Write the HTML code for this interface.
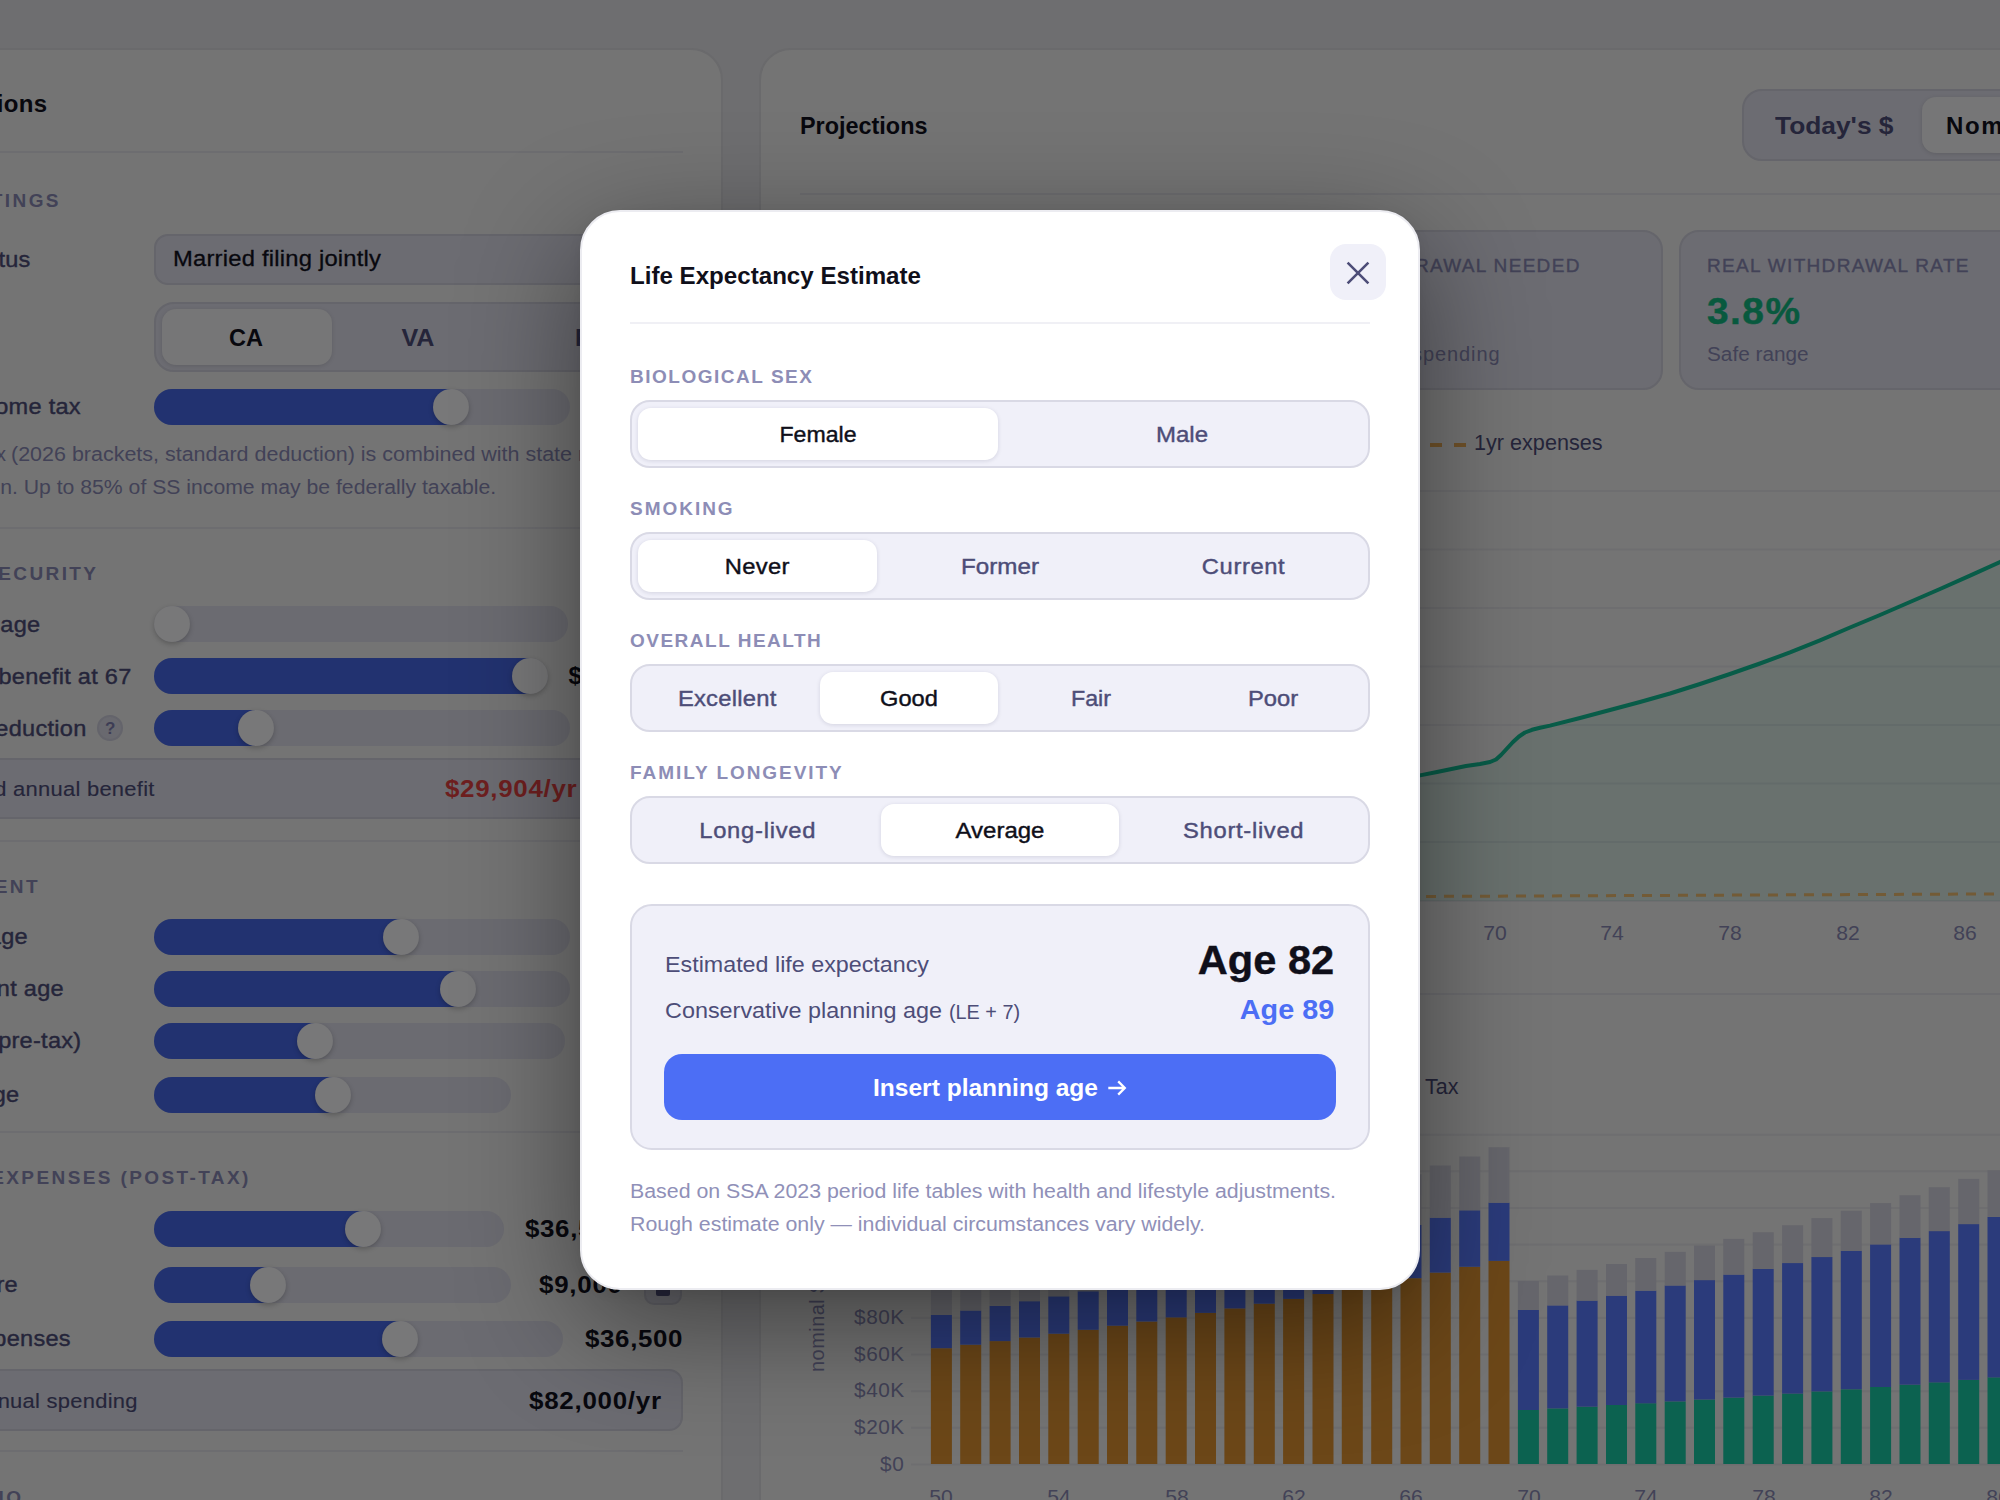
<!DOCTYPE html>
<html><head><meta charset="utf-8"><title>Life Expectancy Estimate</title>
<style>
html,body{margin:0;padding:0;}
body{width:2000px;height:1500px;overflow:hidden;position:relative;background:#6e6e70;font-family:"Liberation Sans",sans-serif;}
.r{position:absolute;}
.t{position:absolute;white-space:nowrap;}
</style></head><body>
<div class="r" style="left:-60px;top:48px;width:783px;height:1600px;background:#747474;border-radius:32px;border:2px solid #6a6a6c;box-sizing:border-box;"></div>
<div class="r" style="left:759px;top:48px;width:1400px;height:1600px;background:#747474;border-radius:32px;border:2px solid #6a6a6c;box-sizing:border-box;"></div>
<div class="t" style="top:92.2px;font-size:24px;line-height:24px;color:#08080e;font-weight:700;letter-spacing:0.300px;right:1953.0px;margin-right:-0.300px;">Assumptions</div>
<div class="r" style="left:-10px;top:151px;width:693px;height:2px;background:#6d6d70;"></div>
<div class="t" style="top:190.9px;font-size:19px;line-height:19px;color:#424257;font-weight:700;letter-spacing:2.400px;right:1941.5px;margin-right:-2.400px;">TAX SETTINGS</div>
<div class="t" style="top:248.5px;font-size:22px;line-height:22px;color:#25253a;letter-spacing:0.250px;-webkit-text-stroke:0.4px;right:1970.0px;margin-right:-0.250px;transform:scaleX(1.0700);transform-origin:right top;">Filing status</div>
<div class="r" style="left:154px;top:234px;width:560px;height:51px;background:#6c6c72;border-radius:14px;border:2px solid #65656b;box-sizing:border-box;"></div>
<div class="t" style="top:248.4px;font-size:22px;line-height:22px;color:#08080e;letter-spacing:0.205px;-webkit-text-stroke:0.3px;left:172.5px;transform:scaleX(1.0800);transform-origin:0 0;">Married filing jointly</div>
<div class="r" style="left:154px;top:302px;width:560px;height:70px;background:#6c6c72;border-radius:20px;border:2px solid #65656b;box-sizing:border-box;"></div>
<div class="r" style="left:162px;top:309px;width:170px;height:56px;background:#767677;border-radius:14px;box-shadow:0 1px 4px rgba(0,0,0,.12);"></div>
<div class="t" style="top:325.7px;font-size:24px;line-height:24px;color:#08080e;font-weight:700;left:-354.0px;width:1200px;text-align:center;padding-left:0.000px;transform:scaleX(0.9806);transform-origin:center top;">CA</div>
<div class="t" style="top:325.7px;font-size:24px;line-height:24px;color:#25253a;font-weight:700;left:-182.0px;width:1200px;text-align:center;padding-left:0.000px;transform:scaleX(1.0455);transform-origin:center top;">VA</div>
<div class="t" style="top:325.7px;font-size:24px;line-height:24px;color:#25253a;font-weight:700;letter-spacing:1.500px;left:575.0px;">FL</div>
<div class="t" style="top:396.1px;font-size:22px;line-height:22px;color:#25253a;letter-spacing:0.250px;-webkit-text-stroke:0.4px;right:1919.0px;margin-right:-0.250px;transform:scaleX(1.0700);transform-origin:right top;">State income tax</div>
<div class="r" style="left:154px;top:389px;width:416px;height:36px;background:#6b6b71;border-radius:18px;"></div>
<div class="r" style="left:154px;top:389px;width:297px;height:36px;background:#223270;border-radius:18px 0 0 18px;"></div>
<div class="r" style="left:433px;top:389px;width:36px;height:36px;background:#787879;border-radius:18px;box-shadow:0 2px 5px rgba(0,0,0,.22);"></div>
<div class="t" style="top:444.1px;font-size:20px;line-height:20px;color:#424257;right:1994.0px;margin-right:0.000px;">x</div>
<div class="t" style="top:444.1px;font-size:20px;line-height:20px;color:#424257;left:10.5px;transform:scaleX(1.0737);transform-origin:0 0;">(2026 brackets, standard deduction) is combined with state rate</div>
<div class="t" style="top:476.7px;font-size:20px;line-height:20px;color:#424257;right:1503.5px;margin-right:0.000px;transform:scaleX(1.0599);transform-origin:right top;">for total taxation. Up to 85% of SS income may be federally taxable.</div>
<div class="r" style="left:-10px;top:527px;width:693px;height:2px;background:#6d6d70;"></div>
<div class="t" style="top:563.9px;font-size:19px;line-height:19px;color:#424257;font-weight:700;letter-spacing:2.400px;right:1904.0px;margin-right:-2.400px;">SOCIAL SECURITY</div>
<div class="t" style="top:614.1px;font-size:22px;line-height:22px;color:#25253a;letter-spacing:0.250px;-webkit-text-stroke:0.4px;right:1960.3px;margin-right:-0.250px;transform:scaleX(1.0700);transform-origin:right top;">Claiming age</div>
<div class="r" style="left:154px;top:606px;width:414px;height:36px;background:#6b6b71;border-radius:18px;"></div>
<div class="r" style="left:154px;top:606px;width:36px;height:36px;background:#787879;border-radius:18px;box-shadow:0 2px 5px rgba(0,0,0,.22);"></div>
<div class="t" style="top:665.7px;font-size:22px;line-height:22px;color:#25253a;letter-spacing:0.250px;-webkit-text-stroke:0.4px;right:1869.0px;margin-right:-0.250px;transform:scaleX(1.0700);transform-origin:right top;">Monthly benefit at 67</div>
<div class="r" style="left:154px;top:658px;width:394px;height:36px;background:#6b6b71;border-radius:18px;"></div>
<div class="r" style="left:154px;top:658px;width:375.5px;height:36px;background:#223270;border-radius:18px 0 0 18px;"></div>
<div class="r" style="left:511.5px;top:658px;width:36px;height:36px;background:#787879;border-radius:18px;box-shadow:0 2px 5px rgba(0,0,0,.22);"></div>
<div class="t" style="top:663.7px;font-size:24px;line-height:24px;color:#08080e;font-weight:700;letter-spacing:0.500px;left:568.5px;">$2,800</div>
<div class="t" style="top:717.7px;font-size:22px;line-height:22px;color:#25253a;letter-spacing:0.250px;-webkit-text-stroke:0.4px;right:1914.0px;margin-right:-0.250px;transform:scaleX(1.0700);transform-origin:right top;">Medicare deduction</div>
<div class="r" style="left:97px;top:715px;width:26px;height:26px;background:#69696f;border-radius:13px;border:2px solid #64646b;box-sizing:border-box;"></div>
<div class="t" style="top:719.8px;font-size:17px;line-height:17px;color:#3d3d55;font-weight:700;left:-489.7px;width:1200px;text-align:center;padding-left:0.000px;">?</div>
<div class="r" style="left:154px;top:710px;width:416px;height:36px;background:#6b6b71;border-radius:18px;"></div>
<div class="r" style="left:154px;top:710px;width:102px;height:36px;background:#223270;border-radius:18px 0 0 18px;"></div>
<div class="r" style="left:238px;top:710px;width:36px;height:36px;background:#787879;border-radius:18px;box-shadow:0 2px 5px rgba(0,0,0,.22);"></div>
<div class="r" style="left:-20px;top:758px;width:703px;height:61px;background:#6c6c72;border-radius:14px;border:2px solid #65656b;box-sizing:border-box;"></div>
<div class="t" style="top:778.9px;font-size:20.5px;line-height:20.5px;color:#25253a;letter-spacing:0.250px;-webkit-text-stroke:0.15px;right:1845.6px;margin-right:-0.250px;transform:scaleX(1.0700);transform-origin:right top;">Estimated annual benefit</div>
<div class="t" style="top:777.2px;font-size:24px;line-height:24px;color:#6e1f1f;font-weight:700;letter-spacing:0.638px;left:445.0px;transform:scaleX(1.0800);transform-origin:0 0;">$29,904/yr</div>
<div class="r" style="left:-10px;top:840px;width:693px;height:2px;background:#6d6d70;"></div>
<div class="t" style="top:876.9px;font-size:19px;line-height:19px;color:#424257;font-weight:700;letter-spacing:2.400px;right:1962.5px;margin-right:-2.400px;">RETIREMENT</div>
<div class="t" style="top:926.1px;font-size:22px;line-height:22px;color:#25253a;letter-spacing:0.250px;-webkit-text-stroke:0.4px;right:1972.4px;margin-right:-0.250px;transform:scaleX(1.0700);transform-origin:right top;">Current age</div>
<div class="r" style="left:154px;top:919px;width:416px;height:36px;background:#6b6b71;border-radius:18px;"></div>
<div class="r" style="left:154px;top:919px;width:247px;height:36px;background:#223270;border-radius:18px 0 0 18px;"></div>
<div class="r" style="left:383px;top:919px;width:36px;height:36px;background:#787879;border-radius:18px;box-shadow:0 2px 5px rgba(0,0,0,.22);"></div>
<div class="t" style="top:978.1px;font-size:22px;line-height:22px;color:#25253a;letter-spacing:0.250px;-webkit-text-stroke:0.4px;right:1936.4px;margin-right:-0.250px;transform:scaleX(1.0700);transform-origin:right top;">Retirement age</div>
<div class="r" style="left:154px;top:971px;width:416px;height:36px;background:#6b6b71;border-radius:18px;"></div>
<div class="r" style="left:154px;top:971px;width:304px;height:36px;background:#223270;border-radius:18px 0 0 18px;"></div>
<div class="r" style="left:440px;top:971px;width:36px;height:36px;background:#787879;border-radius:18px;box-shadow:0 2px 5px rgba(0,0,0,.22);"></div>
<div class="t" style="top:1030.1px;font-size:22px;line-height:22px;color:#25253a;letter-spacing:0.250px;-webkit-text-stroke:0.4px;right:1918.4px;margin-right:-0.250px;transform:scaleX(1.0700);transform-origin:right top;">Income (pre-tax)</div>
<div class="r" style="left:154px;top:1023px;width:411px;height:36px;background:#6b6b71;border-radius:18px;"></div>
<div class="r" style="left:154px;top:1023px;width:161px;height:36px;background:#223270;border-radius:18px 0 0 18px;"></div>
<div class="r" style="left:297px;top:1023px;width:36px;height:36px;background:#787879;border-radius:18px;box-shadow:0 2px 5px rgba(0,0,0,.22);"></div>
<div class="t" style="top:1084.1px;font-size:22px;line-height:22px;color:#25253a;letter-spacing:0.250px;-webkit-text-stroke:0.4px;right:1980.5px;margin-right:-0.250px;transform:scaleX(1.0700);transform-origin:right top;">Planning age</div>
<div class="r" style="left:154px;top:1077px;width:357px;height:36px;background:#6b6b71;border-radius:18px;"></div>
<div class="r" style="left:154px;top:1077px;width:179px;height:36px;background:#223270;border-radius:18px 0 0 18px;"></div>
<div class="r" style="left:315px;top:1077px;width:36px;height:36px;background:#787879;border-radius:18px;box-shadow:0 2px 5px rgba(0,0,0,.22);"></div>
<div class="r" style="left:-10px;top:1131px;width:693px;height:2px;background:#6d6d70;"></div>
<div class="t" style="top:1167.9px;font-size:19px;line-height:19px;color:#424257;font-weight:700;letter-spacing:2.400px;right:1751.6px;margin-right:-2.400px;">ANNUAL EXPENSES (POST-TAX)</div>
<div class="r" style="left:154px;top:1211px;width:350px;height:36px;background:#6b6b71;border-radius:18px;"></div>
<div class="r" style="left:154px;top:1211px;width:209px;height:36px;background:#223270;border-radius:18px 0 0 18px;"></div>
<div class="r" style="left:345px;top:1211px;width:36px;height:36px;background:#787879;border-radius:18px;box-shadow:0 2px 5px rgba(0,0,0,.22);"></div>
<div class="t" style="top:1216.7px;font-size:24px;line-height:24px;color:#08080e;font-weight:700;letter-spacing:0.585px;left:525.0px;transform:scaleX(1.0800);transform-origin:0 0;">$36,500</div>
<div class="t" style="top:1274.1px;font-size:22px;line-height:22px;color:#25253a;letter-spacing:0.250px;-webkit-text-stroke:0.4px;right:1982.4px;margin-right:-0.250px;transform:scaleX(1.0700);transform-origin:right top;">Healthcare</div>
<div class="r" style="left:154px;top:1267px;width:357px;height:36px;background:#6b6b71;border-radius:18px;"></div>
<div class="r" style="left:154px;top:1267px;width:114px;height:36px;background:#223270;border-radius:18px 0 0 18px;"></div>
<div class="r" style="left:250px;top:1267px;width:36px;height:36px;background:#787879;border-radius:18px;box-shadow:0 2px 5px rgba(0,0,0,.22);"></div>
<div class="t" style="top:1272.7px;font-size:24px;line-height:24px;color:#08080e;font-weight:700;letter-spacing:0.689px;left:539.0px;transform:scaleX(1.0800);transform-origin:0 0;">$9,000</div>
<div class="r" style="left:644px;top:1265px;width:38px;height:40px;background:#6c6c72;border-radius:10px;border:2px solid #65656b;box-sizing:border-box;"></div>
<div class="r" style="left:656px;top:1283px;width:14px;height:13px;background:#2a2a40;border-radius:2px;"></div>
<div class="t" style="top:1328.1px;font-size:22px;line-height:22px;color:#25253a;letter-spacing:0.250px;-webkit-text-stroke:0.4px;right:1929.0px;margin-right:-0.250px;transform:scaleX(1.0700);transform-origin:right top;">Other expenses</div>
<div class="r" style="left:154px;top:1321px;width:409px;height:36px;background:#6b6b71;border-radius:18px;"></div>
<div class="r" style="left:154px;top:1321px;width:246px;height:36px;background:#223270;border-radius:18px 0 0 18px;"></div>
<div class="r" style="left:382px;top:1321px;width:36px;height:36px;background:#787879;border-radius:18px;box-shadow:0 2px 5px rgba(0,0,0,.22);"></div>
<div class="t" style="top:1326.7px;font-size:24px;line-height:24px;color:#08080e;font-weight:700;letter-spacing:0.585px;left:585.0px;transform:scaleX(1.0800);transform-origin:0 0;">$36,500</div>
<div class="r" style="left:-20px;top:1369px;width:703px;height:62px;background:#6c6c72;border-radius:14px;border:2px solid #65656b;box-sizing:border-box;"></div>
<div class="t" style="top:1391.3px;font-size:20.5px;line-height:20.5px;color:#25253a;letter-spacing:0.250px;-webkit-text-stroke:0.15px;right:1863.0px;margin-right:-0.250px;transform:scaleX(1.0700);transform-origin:right top;">Total annual spending</div>
<div class="t" style="top:1388.7px;font-size:24px;line-height:24px;color:#08080e;font-weight:700;letter-spacing:0.679px;left:529.0px;transform:scaleX(1.0800);transform-origin:0 0;">$82,000/yr</div>
<div class="r" style="left:-10px;top:1450px;width:693px;height:2px;background:#6d6d70;"></div>
<div class="t" style="top:1487.9px;font-size:19px;line-height:19px;color:#424257;font-weight:700;letter-spacing:2.400px;right:1979.0px;margin-right:-2.400px;">PORTFOLIO</div>
<div class="t" style="top:113.7px;font-size:24px;line-height:24px;color:#08080e;font-weight:700;left:800.0px;transform:scaleX(0.9755);transform-origin:0 0;">Projections</div>
<div class="r" style="left:1742px;top:89px;width:400px;height:72px;background:#6c6c72;border-radius:20px;border:2px solid #65656b;box-sizing:border-box;"></div>
<div class="r" style="left:1922px;top:97px;width:200px;height:56px;background:#767677;border-radius:14px;box-shadow:0 1px 4px rgba(0,0,0,.12);"></div>
<div class="t" style="top:114.2px;font-size:24px;line-height:24px;color:#25253a;font-weight:700;left:1775.0px;transform:scaleX(1.0975);transform-origin:0 0;">Today's $</div>
<div class="t" style="top:114.2px;font-size:24px;line-height:24px;color:#08080e;font-weight:700;letter-spacing:1.600px;left:1946.0px;">Nominal $</div>
<div class="r" style="left:800px;top:193px;width:1300px;height:2px;background:#6d6d70;"></div>
<div class="r" style="left:1300px;top:230px;width:362.5px;height:160px;background:#6c6c72;border-radius:20px;border:2px solid #65656b;box-sizing:border-box;"></div>
<div class="r" style="left:1679px;top:230px;width:400px;height:160px;background:#6c6c72;border-radius:20px;border:2px solid #65656b;box-sizing:border-box;"></div>
<div class="t" style="top:256.4px;font-size:19px;line-height:19px;color:#424257;letter-spacing:1.325px;-webkit-text-stroke:0.4px;right:420.6px;margin-right:-1.325px;">WITHDRAWAL NEEDED</div>
<div class="t" style="top:344.1px;font-size:20px;line-height:20px;color:#424257;letter-spacing:0.900px;right:500.4px;margin-right:-0.900px;">of spending</div>
<div class="t" style="top:256.4px;font-size:19px;line-height:19px;color:#424257;letter-spacing:1.317px;-webkit-text-stroke:0.4px;left:1707.0px;">REAL WITHDRAWAL RATE</div>
<div class="t" style="top:293.9px;font-size:36px;line-height:36px;color:#08593e;font-weight:700;letter-spacing:1.350px;-webkit-text-stroke:0.4px;left:1707.0px;transform:scaleX(1.0800);transform-origin:0 0;">3.8%</div>
<div class="t" style="top:344.1px;font-size:20px;line-height:20px;color:#424257;left:1707.0px;transform:scaleX(1.0382);transform-origin:0 0;">Safe range</div>
<div class="r" style="left:1430px;top:443px;width:12px;height:4px;background:#71532a;"></div>
<div class="r" style="left:1454px;top:443px;width:12px;height:4px;background:#71532a;"></div>
<div class="t" style="top:431.8px;font-size:22px;line-height:22px;color:#25253a;left:1474.4px;transform:scaleX(0.9827);transform-origin:0 0;">1yr expenses</div>
<svg class="r" style="left:0;top:0" width="2000" height="1500" viewBox="0 0 2000 1500">
<rect x="800" y="490.0" width="1300" height="2" fill="#6e6e70"/>
<rect x="800" y="548.5" width="1300" height="2" fill="#6e6e70"/>
<rect x="800" y="607.0" width="1300" height="2" fill="#6e6e70"/>
<rect x="800" y="665.5" width="1300" height="2" fill="#6e6e70"/>
<rect x="800" y="724.0" width="1300" height="2" fill="#6e6e70"/>
<rect x="800" y="782.5" width="1300" height="2" fill="#6e6e70"/>
<rect x="800" y="841.0" width="1300" height="2" fill="#6e6e70"/>
<rect x="800" y="900.0" width="1300" height="2" fill="#6e6e70"/>
<path d="M1390.0 781.0 L1420.0 775.4 L1437.0 772.0 L1466.0 766.0 L1480.0 764.0 L1490.0 762.0 L1496.0 759.5 L1501.0 755.0 L1507.0 748.5 L1513.0 742.0 L1519.0 736.5 L1525.0 732.5 L1532.0 729.8 L1540.0 727.8 L1550.0 725.6 L1580.0 718.0 L1610.0 710.0 L1640.0 702.0 L1670.0 693.5 L1700.0 684.0 L1730.0 674.0 L1760.0 663.5 L1790.0 652.4 L1820.0 640.3 L1850.0 627.5 L1880.0 615.0 L1910.0 602.0 L1940.0 589.0 L1970.0 575.6 L2000.0 562.0 L2030.0 548.0 L2030 901 L1390 901 Z" fill="#08593e" fill-opacity="0.10"/>
<path d="M1390.0 781.0 L1420.0 775.4 L1437.0 772.0 L1466.0 766.0 L1480.0 764.0 L1490.0 762.0 L1496.0 759.5 L1501.0 755.0 L1507.0 748.5 L1513.0 742.0 L1519.0 736.5 L1525.0 732.5 L1532.0 729.8 L1540.0 727.8 L1550.0 725.6 L1580.0 718.0 L1610.0 710.0 L1640.0 702.0 L1670.0 693.5 L1700.0 684.0 L1730.0 674.0 L1760.0 663.5 L1790.0 652.4 L1820.0 640.3 L1850.0 627.5 L1880.0 615.0 L1910.0 602.0 L1940.0 589.0 L1970.0 575.6 L2000.0 562.0 L2030.0 548.0" fill="none" stroke="#085c48" stroke-width="4" stroke-linejoin="round"/>
<path d="M1390 896.6 L2030 893.8" fill="none" stroke="#735b36" stroke-width="3" stroke-dasharray="10 8"/>
<rect x="911" y="1463.5" width="1200" height="2" fill="#6e6e70"/>
<rect x="911" y="1426.8" width="1200" height="2" fill="#6e6e70"/>
<rect x="911" y="1390.2" width="1200" height="2" fill="#6e6e70"/>
<rect x="911" y="1353.5" width="1200" height="2" fill="#6e6e70"/>
<rect x="911" y="1316.9" width="1200" height="2" fill="#6e6e70"/>
<rect x="911" y="1280.2" width="1200" height="2" fill="#6e6e70"/>
<rect x="911" y="1243.6" width="1200" height="2" fill="#6e6e70"/>
<rect x="911" y="1207.0" width="1200" height="2" fill="#6e6e70"/>
<rect x="911" y="1170.3" width="1200" height="2" fill="#6e6e70"/>
<rect x="911" y="1133.7" width="1200" height="2" fill="#6e6e70"/>
<rect x="930.9" y="1348.2" width="21" height="115.8" fill="#6c4718"/>
<rect x="930.9" y="1315.0" width="21" height="33.2" fill="#2b3b7b"/>
<rect x="930.9" y="1283.4" width="21" height="31.6" fill="#66666c"/>
<rect x="960.2" y="1344.7" width="21" height="119.3" fill="#6c4718"/>
<rect x="960.2" y="1310.5" width="21" height="34.2" fill="#2b3b7b"/>
<rect x="960.2" y="1278.0" width="21" height="32.5" fill="#66666c"/>
<rect x="989.6" y="1341.1" width="21" height="122.9" fill="#6c4718"/>
<rect x="989.6" y="1305.9" width="21" height="35.2" fill="#2b3b7b"/>
<rect x="989.6" y="1272.4" width="21" height="33.5" fill="#66666c"/>
<rect x="1019.0" y="1337.5" width="21" height="126.5" fill="#6c4718"/>
<rect x="1019.0" y="1301.2" width="21" height="36.3" fill="#2b3b7b"/>
<rect x="1019.0" y="1266.7" width="21" height="34.5" fill="#66666c"/>
<rect x="1048.3" y="1333.7" width="21" height="130.3" fill="#6c4718"/>
<rect x="1048.3" y="1296.3" width="21" height="37.4" fill="#2b3b7b"/>
<rect x="1048.3" y="1260.7" width="21" height="35.6" fill="#66666c"/>
<rect x="1077.7" y="1329.8" width="21" height="134.2" fill="#6c4718"/>
<rect x="1077.7" y="1291.3" width="21" height="38.5" fill="#2b3b7b"/>
<rect x="1077.7" y="1254.6" width="21" height="36.6" fill="#66666c"/>
<rect x="1107.0" y="1325.7" width="21" height="138.3" fill="#6c4718"/>
<rect x="1107.0" y="1286.1" width="21" height="39.6" fill="#2b3b7b"/>
<rect x="1107.0" y="1248.4" width="21" height="37.7" fill="#66666c"/>
<rect x="1136.3" y="1321.6" width="21" height="142.4" fill="#6c4718"/>
<rect x="1136.3" y="1280.7" width="21" height="40.8" fill="#2b3b7b"/>
<rect x="1136.3" y="1241.9" width="21" height="38.9" fill="#66666c"/>
<rect x="1165.7" y="1317.3" width="21" height="146.7" fill="#6c4718"/>
<rect x="1165.7" y="1275.3" width="21" height="42.1" fill="#2b3b7b"/>
<rect x="1165.7" y="1235.2" width="21" height="40.0" fill="#66666c"/>
<rect x="1195.0" y="1312.9" width="21" height="151.1" fill="#6c4718"/>
<rect x="1195.0" y="1269.6" width="21" height="43.3" fill="#2b3b7b"/>
<rect x="1195.0" y="1228.4" width="21" height="41.2" fill="#66666c"/>
<rect x="1224.4" y="1308.4" width="21" height="155.6" fill="#6c4718"/>
<rect x="1224.4" y="1263.8" width="21" height="44.6" fill="#2b3b7b"/>
<rect x="1224.4" y="1221.3" width="21" height="42.5" fill="#66666c"/>
<rect x="1253.8" y="1303.7" width="21" height="160.3" fill="#6c4718"/>
<rect x="1253.8" y="1257.7" width="21" height="46.0" fill="#2b3b7b"/>
<rect x="1253.8" y="1214.0" width="21" height="43.7" fill="#66666c"/>
<rect x="1283.1" y="1298.9" width="21" height="165.1" fill="#6c4718"/>
<rect x="1283.1" y="1251.6" width="21" height="47.3" fill="#2b3b7b"/>
<rect x="1283.1" y="1206.5" width="21" height="45.1" fill="#66666c"/>
<rect x="1312.5" y="1293.9" width="21" height="170.1" fill="#6c4718"/>
<rect x="1312.5" y="1245.2" width="21" height="48.8" fill="#2b3b7b"/>
<rect x="1312.5" y="1198.8" width="21" height="46.4" fill="#66666c"/>
<rect x="1341.8" y="1288.8" width="21" height="175.2" fill="#6c4718"/>
<rect x="1341.8" y="1238.6" width="21" height="50.2" fill="#2b3b7b"/>
<rect x="1341.8" y="1190.8" width="21" height="47.8" fill="#66666c"/>
<rect x="1371.2" y="1283.6" width="21" height="180.4" fill="#6c4718"/>
<rect x="1371.2" y="1231.9" width="21" height="51.7" fill="#2b3b7b"/>
<rect x="1371.2" y="1182.6" width="21" height="49.2" fill="#66666c"/>
<rect x="1400.5" y="1278.2" width="21" height="185.8" fill="#6c4718"/>
<rect x="1400.5" y="1224.9" width="21" height="53.3" fill="#2b3b7b"/>
<rect x="1400.5" y="1174.2" width="21" height="50.7" fill="#66666c"/>
<rect x="1429.8" y="1272.6" width="21" height="191.4" fill="#6c4718"/>
<rect x="1429.8" y="1217.7" width="21" height="54.9" fill="#2b3b7b"/>
<rect x="1429.8" y="1165.5" width="21" height="52.2" fill="#66666c"/>
<rect x="1459.2" y="1266.9" width="21" height="197.1" fill="#6c4718"/>
<rect x="1459.2" y="1210.3" width="21" height="56.5" fill="#2b3b7b"/>
<rect x="1459.2" y="1156.5" width="21" height="53.8" fill="#66666c"/>
<rect x="1488.5" y="1260.9" width="21" height="203.1" fill="#6c4718"/>
<rect x="1488.5" y="1202.7" width="21" height="58.2" fill="#2b3b7b"/>
<rect x="1488.5" y="1147.3" width="21" height="55.4" fill="#66666c"/>
<rect x="1517.9" y="1410.0" width="21" height="54.0" fill="#0c6250"/>
<rect x="1517.9" y="1310.0" width="21" height="100.0" fill="#2b3b7b"/>
<rect x="1517.9" y="1281.0" width="21" height="29.0" fill="#66666c"/>
<rect x="1547.2" y="1408.4" width="21" height="55.6" fill="#0c6250"/>
<rect x="1547.2" y="1305.4" width="21" height="103.0" fill="#2b3b7b"/>
<rect x="1547.2" y="1275.5" width="21" height="29.9" fill="#66666c"/>
<rect x="1576.6" y="1406.7" width="21" height="57.3" fill="#0c6250"/>
<rect x="1576.6" y="1300.6" width="21" height="106.1" fill="#2b3b7b"/>
<rect x="1576.6" y="1269.9" width="21" height="30.8" fill="#66666c"/>
<rect x="1606.0" y="1405.0" width="21" height="59.0" fill="#0c6250"/>
<rect x="1606.0" y="1295.7" width="21" height="109.3" fill="#2b3b7b"/>
<rect x="1606.0" y="1264.0" width="21" height="31.7" fill="#66666c"/>
<rect x="1635.3" y="1403.2" width="21" height="60.8" fill="#0c6250"/>
<rect x="1635.3" y="1290.7" width="21" height="112.6" fill="#2b3b7b"/>
<rect x="1635.3" y="1258.0" width="21" height="32.6" fill="#66666c"/>
<rect x="1664.7" y="1401.4" width="21" height="62.6" fill="#0c6250"/>
<rect x="1664.7" y="1285.5" width="21" height="115.9" fill="#2b3b7b"/>
<rect x="1664.7" y="1251.9" width="21" height="33.6" fill="#66666c"/>
<rect x="1694.0" y="1399.5" width="21" height="64.5" fill="#0c6250"/>
<rect x="1694.0" y="1280.1" width="21" height="119.4" fill="#2b3b7b"/>
<rect x="1694.0" y="1245.5" width="21" height="34.6" fill="#66666c"/>
<rect x="1723.3" y="1397.6" width="21" height="66.4" fill="#0c6250"/>
<rect x="1723.3" y="1274.6" width="21" height="123.0" fill="#2b3b7b"/>
<rect x="1723.3" y="1238.9" width="21" height="35.7" fill="#66666c"/>
<rect x="1752.7" y="1395.6" width="21" height="68.4" fill="#0c6250"/>
<rect x="1752.7" y="1268.9" width="21" height="126.7" fill="#2b3b7b"/>
<rect x="1752.7" y="1232.2" width="21" height="36.7" fill="#66666c"/>
<rect x="1782.1" y="1393.5" width="21" height="70.5" fill="#0c6250"/>
<rect x="1782.1" y="1263.1" width="21" height="130.5" fill="#2b3b7b"/>
<rect x="1782.1" y="1225.2" width="21" height="37.8" fill="#66666c"/>
<rect x="1811.4" y="1391.4" width="21" height="72.6" fill="#0c6250"/>
<rect x="1811.4" y="1257.0" width="21" height="134.4" fill="#2b3b7b"/>
<rect x="1811.4" y="1218.1" width="21" height="39.0" fill="#66666c"/>
<rect x="1840.8" y="1389.3" width="21" height="74.7" fill="#0c6250"/>
<rect x="1840.8" y="1250.8" width="21" height="138.4" fill="#2b3b7b"/>
<rect x="1840.8" y="1210.7" width="21" height="40.1" fill="#66666c"/>
<rect x="1870.1" y="1387.0" width="21" height="77.0" fill="#0c6250"/>
<rect x="1870.1" y="1244.4" width="21" height="142.6" fill="#2b3b7b"/>
<rect x="1870.1" y="1203.1" width="21" height="41.3" fill="#66666c"/>
<rect x="1899.5" y="1384.7" width="21" height="79.3" fill="#0c6250"/>
<rect x="1899.5" y="1237.8" width="21" height="146.9" fill="#2b3b7b"/>
<rect x="1899.5" y="1195.3" width="21" height="42.6" fill="#66666c"/>
<rect x="1928.8" y="1382.3" width="21" height="81.7" fill="#0c6250"/>
<rect x="1928.8" y="1231.1" width="21" height="151.3" fill="#2b3b7b"/>
<rect x="1928.8" y="1187.2" width="21" height="43.9" fill="#66666c"/>
<rect x="1958.2" y="1379.9" width="21" height="84.1" fill="#0c6250"/>
<rect x="1958.2" y="1224.1" width="21" height="155.8" fill="#2b3b7b"/>
<rect x="1958.2" y="1178.9" width="21" height="45.2" fill="#66666c"/>
<rect x="1987.5" y="1377.3" width="21" height="86.7" fill="#0c6250"/>
<rect x="1987.5" y="1216.9" width="21" height="160.5" fill="#2b3b7b"/>
<rect x="1987.5" y="1170.3" width="21" height="46.5" fill="#66666c"/>
<rect x="2016.8" y="1374.7" width="21" height="89.3" fill="#0c6250"/>
<rect x="2016.8" y="1209.5" width="21" height="165.3" fill="#2b3b7b"/>
<rect x="2016.8" y="1161.5" width="21" height="47.9" fill="#66666c"/>
</svg>
<div class="t" style="top:922.2px;font-size:21px;line-height:21px;color:#424257;left:895.0px;width:1200px;text-align:center;padding-left:0.000px;transform:scaleX(1.0060);transform-origin:center top;">70</div>
<div class="t" style="top:922.2px;font-size:21px;line-height:21px;color:#424257;left:1012.4px;width:1200px;text-align:center;padding-left:0.000px;transform:scaleX(1.0060);transform-origin:center top;">74</div>
<div class="t" style="top:922.2px;font-size:21px;line-height:21px;color:#424257;left:1130.0px;width:1200px;text-align:center;padding-left:0.000px;transform:scaleX(1.0060);transform-origin:center top;">78</div>
<div class="t" style="top:922.2px;font-size:21px;line-height:21px;color:#424257;left:1247.6px;width:1200px;text-align:center;padding-left:0.000px;transform:scaleX(1.0060);transform-origin:center top;">82</div>
<div class="t" style="top:922.2px;font-size:21px;line-height:21px;color:#424257;left:1365.0px;width:1200px;text-align:center;padding-left:0.000px;transform:scaleX(1.0060);transform-origin:center top;">86</div>
<div class="r" style="left:800px;top:993px;width:1300px;height:2px;background:#6d6d70;"></div>
<div class="t" style="top:1076.4px;font-size:22px;line-height:22px;color:#25253a;left:1425.0px;transform:scaleX(0.9781);transform-origin:0 0;">Tax</div>
<div class="t" style="top:1453.6px;font-size:20px;line-height:20px;color:#424257;letter-spacing:0.500px;right:1096.0px;margin-right:-0.500px;transform:scaleX(1.0400);transform-origin:right top;">$0</div>
<div class="t" style="top:1416.9px;font-size:20px;line-height:20px;color:#424257;letter-spacing:0.500px;right:1096.0px;margin-right:-0.500px;transform:scaleX(1.0400);transform-origin:right top;">$20K</div>
<div class="t" style="top:1380.3px;font-size:20px;line-height:20px;color:#424257;letter-spacing:0.500px;right:1096.0px;margin-right:-0.500px;transform:scaleX(1.0400);transform-origin:right top;">$40K</div>
<div class="t" style="top:1343.6px;font-size:20px;line-height:20px;color:#424257;letter-spacing:0.500px;right:1096.0px;margin-right:-0.500px;transform:scaleX(1.0400);transform-origin:right top;">$60K</div>
<div class="t" style="top:1307.0px;font-size:20px;line-height:20px;color:#424257;letter-spacing:0.500px;right:1096.0px;margin-right:-0.500px;transform:scaleX(1.0400);transform-origin:right top;">$80K</div>
<div class="t" style="top:1486.2px;font-size:21px;line-height:21px;color:#424257;left:341.0px;width:1200px;text-align:center;padding-left:0.000px;transform:scaleX(1.0060);transform-origin:center top;">50</div>
<div class="t" style="top:1486.2px;font-size:21px;line-height:21px;color:#424257;left:458.5px;width:1200px;text-align:center;padding-left:0.000px;transform:scaleX(1.0060);transform-origin:center top;">54</div>
<div class="t" style="top:1486.2px;font-size:21px;line-height:21px;color:#424257;left:576.5px;width:1200px;text-align:center;padding-left:0.000px;transform:scaleX(1.0060);transform-origin:center top;">58</div>
<div class="t" style="top:1486.2px;font-size:21px;line-height:21px;color:#424257;left:693.8px;width:1200px;text-align:center;padding-left:0.000px;transform:scaleX(1.0060);transform-origin:center top;">62</div>
<div class="t" style="top:1486.2px;font-size:21px;line-height:21px;color:#424257;left:811.0px;width:1200px;text-align:center;padding-left:0.000px;transform:scaleX(1.0060);transform-origin:center top;">66</div>
<div class="t" style="top:1486.2px;font-size:21px;line-height:21px;color:#424257;left:928.5px;width:1200px;text-align:center;padding-left:0.000px;transform:scaleX(1.0060);transform-origin:center top;">70</div>
<div class="t" style="top:1486.2px;font-size:21px;line-height:21px;color:#424257;left:1046.0px;width:1200px;text-align:center;padding-left:0.000px;transform:scaleX(1.0060);transform-origin:center top;">74</div>
<div class="t" style="top:1486.2px;font-size:21px;line-height:21px;color:#424257;left:1163.5px;width:1200px;text-align:center;padding-left:0.000px;transform:scaleX(1.0060);transform-origin:center top;">78</div>
<div class="t" style="top:1486.2px;font-size:21px;line-height:21px;color:#424257;left:1281.0px;width:1200px;text-align:center;padding-left:0.000px;transform:scaleX(1.0060);transform-origin:center top;">82</div>
<div class="t" style="top:1486.2px;font-size:21px;line-height:21px;color:#424257;left:1398.0px;width:1200px;text-align:center;padding-left:0.000px;transform:scaleX(1.0060);transform-origin:center top;">86</div>
<div class="t" style="left:807px;top:1371.5px;font-size:20px;line-height:20px;color:#424257;letter-spacing:0.45px;transform-origin:0 0;transform:rotate(-90deg);">nominal $</div>
<div class="r" style="left:580px;top:210px;width:840px;height:1080px;background:#fff;border-radius:40px;box-sizing:border-box;border:2px solid #ececf1;box-shadow:0 34px 120px rgba(0,0,0,.45),0 4px 14px rgba(0,0,0,.06);"></div>
<div class="t" style="top:263.7px;font-size:24px;line-height:24px;color:#0f0f1a;font-weight:700;left:630.0px;transform:scaleX(1.0053);transform-origin:0 0;">Life Expectancy Estimate</div>
<div class="r" style="left:1330px;top:244px;width:56px;height:56px;background:#f0f0f9;border-radius:16px;"></div>
<svg class="r" style="left:1330px;top:244px" width="56" height="56" viewBox="0 0 56 56"><path d="M17.6 18.6 L38.4 39.4 M38.4 18.6 L17.6 39.4" stroke="#4d4d78" stroke-width="2.6" stroke-linecap="butt" fill="none"/></svg>
<div class="r" style="left:630px;top:322px;width:740px;height:2px;background:#f0f0f5;"></div>
<div class="t" style="top:366.9px;font-size:19px;line-height:19px;color:#8d8db6;font-weight:700;letter-spacing:1.520px;left:630.0px;">BIOLOGICAL SEX</div>
<div class="r" style="left:630px;top:400px;width:740px;height:68px;background:#f0f0f9;border-radius:20px;border:2px solid #d9d9e5;box-sizing:border-box;"></div>
<div class="r" style="left:638px;top:408px;width:360px;height:52px;background:#fff;border-radius:13px;box-shadow:0 1px 4px rgba(20,20,60,.13);"></div>
<div class="t" style="top:424.0px;font-size:22px;line-height:22px;color:#0f0f1a;-webkit-text-stroke:0.4px;left:218.0px;width:1200px;text-align:center;padding-left:0.000px;transform:scaleX(1.0496);transform-origin:center top;">Female</div>
<div class="t" style="top:424.0px;font-size:22px;line-height:22px;color:#4d4d78;-webkit-text-stroke:0.4px;left:582.0px;width:1200px;text-align:center;padding-left:0.000px;transform:scaleX(1.0904);transform-origin:center top;">Male</div>
<div class="t" style="top:498.9px;font-size:19px;line-height:19px;color:#8d8db6;font-weight:700;letter-spacing:1.970px;left:630.0px;">SMOKING</div>
<div class="r" style="left:630px;top:532px;width:740px;height:68px;background:#f0f0f9;border-radius:20px;border:2px solid #d9d9e5;box-sizing:border-box;"></div>
<div class="r" style="left:638px;top:540px;width:238.667px;height:52px;background:#fff;border-radius:13px;box-shadow:0 1px 4px rgba(20,20,60,.13);"></div>
<div class="t" style="top:556.0px;font-size:22px;line-height:22px;color:#0f0f1a;letter-spacing:0.282px;-webkit-text-stroke:0.4px;left:157.3px;width:1200px;text-align:center;padding-left:0.282px;transform:scaleX(1.0800);transform-origin:center top;">Never</div>
<div class="t" style="top:556.0px;font-size:22px;line-height:22px;color:#4d4d78;-webkit-text-stroke:0.4px;left:400.0px;width:1200px;text-align:center;padding-left:0.000px;transform:scaleX(1.0989);transform-origin:center top;">Former</div>
<div class="t" style="top:556.0px;font-size:22px;line-height:22px;color:#4d4d78;letter-spacing:0.551px;-webkit-text-stroke:0.4px;left:642.7px;width:1200px;text-align:center;padding-left:0.551px;transform:scaleX(1.0800);transform-origin:center top;">Current</div>
<div class="t" style="top:630.9px;font-size:19px;line-height:19px;color:#8d8db6;font-weight:700;letter-spacing:1.495px;left:630.0px;">OVERALL HEALTH</div>
<div class="r" style="left:630px;top:664px;width:740px;height:68px;background:#f0f0f9;border-radius:20px;border:2px solid #d9d9e5;box-sizing:border-box;"></div>
<div class="t" style="top:688.0px;font-size:22px;line-height:22px;color:#4d4d78;letter-spacing:0.229px;-webkit-text-stroke:0.4px;left:127.0px;width:1200px;text-align:center;padding-left:0.229px;transform:scaleX(1.0800);transform-origin:center top;">Excellent</div>
<div class="r" style="left:820px;top:672px;width:178px;height:52px;background:#fff;border-radius:13px;box-shadow:0 1px 4px rgba(20,20,60,.13);"></div>
<div class="t" style="top:688.0px;font-size:22px;line-height:22px;color:#0f0f1a;-webkit-text-stroke:0.4px;left:309.0px;width:1200px;text-align:center;padding-left:0.000px;transform:scaleX(1.0738);transform-origin:center top;">Good</div>
<div class="t" style="top:688.0px;font-size:22px;line-height:22px;color:#4d4d78;-webkit-text-stroke:0.4px;left:491.0px;width:1200px;text-align:center;padding-left:0.000px;transform:scaleX(1.0557);transform-origin:center top;">Fair</div>
<div class="t" style="top:688.0px;font-size:22px;line-height:22px;color:#4d4d78;-webkit-text-stroke:0.4px;left:673.0px;width:1200px;text-align:center;padding-left:0.000px;transform:scaleX(1.0799);transform-origin:center top;">Poor</div>
<div class="t" style="top:762.9px;font-size:19px;line-height:19px;color:#8d8db6;font-weight:700;letter-spacing:1.936px;left:630.0px;">FAMILY LONGEVITY</div>
<div class="r" style="left:630px;top:796px;width:740px;height:68px;background:#f0f0f9;border-radius:20px;border:2px solid #d9d9e5;box-sizing:border-box;"></div>
<div class="t" style="top:820.0px;font-size:22px;line-height:22px;color:#4d4d78;letter-spacing:0.686px;-webkit-text-stroke:0.4px;left:157.3px;width:1200px;text-align:center;padding-left:0.686px;transform:scaleX(1.0800);transform-origin:center top;">Long-lived</div>
<div class="r" style="left:880.667px;top:804px;width:238.667px;height:52px;background:#fff;border-radius:13px;box-shadow:0 1px 4px rgba(20,20,60,.13);"></div>
<div class="t" style="top:820.0px;font-size:22px;line-height:22px;color:#0f0f1a;-webkit-text-stroke:0.4px;left:400.0px;width:1200px;text-align:center;padding-left:0.000px;transform:scaleX(1.0902);transform-origin:center top;">Average</div>
<div class="t" style="top:820.0px;font-size:22px;line-height:22px;color:#4d4d78;letter-spacing:0.642px;-webkit-text-stroke:0.4px;left:642.7px;width:1200px;text-align:center;padding-left:0.642px;transform:scaleX(1.0800);transform-origin:center top;">Short-lived</div>
<div class="r" style="left:630px;top:904px;width:740px;height:246px;background:#f0f0f9;border-radius:22px;border:2px solid #d9d9e5;box-sizing:border-box;"></div>
<div class="t" style="top:954.4px;font-size:22px;line-height:22px;color:#4d4d78;left:665.0px;transform:scaleX(1.0582);transform-origin:0 0;">Estimated life expectancy</div>
<div class="t" style="top:939.5px;font-size:40px;line-height:40px;color:#0f0f1a;font-weight:700;-webkit-text-stroke:0.4px;right:665.6px;margin-right:0.000px;transform:scaleX(1.0399);transform-origin:right top;">Age 82</div>
<div class="t" style="top:1000.4px;font-size:22px;line-height:22px;color:#4d4d78;left:665.0px;transform:scaleX(1.0633);transform-origin:0 0;">Conservative planning age</div>
<div class="t" style="top:1002.1px;font-size:20px;line-height:20px;color:#4d4d78;left:948.5px;transform:scaleX(0.9902);transform-origin:0 0;">(LE + 7)</div>
<div class="t" style="top:995.7px;font-size:27.5px;line-height:27.5px;color:#4c6ef5;font-weight:700;right:665.6px;margin-right:0.000px;transform:scaleX(1.0467);transform-origin:right top;">Age 89</div>
<div class="r" style="left:664px;top:1054px;width:672px;height:66px;background:#4c6ef5;border-radius:18px;"></div>
<div class="t" style="top:1075.7px;font-size:24px;line-height:24px;color:#fff;font-weight:700;left:873.0px;transform:scaleX(1.0226);transform-origin:0 0;">Insert planning age</div>
<svg class="r" style="left:1106px;top:1076px" width="24" height="24" viewBox="0 0 24 24"><path d="M2.3 12 H18.2 M12.2 5.4 L18.8 12 L12.2 18.6" stroke="#fff" stroke-width="2.3" fill="none" stroke-linecap="butt" stroke-linejoin="miter"/></svg>
<div class="t" style="top:1180.8px;font-size:20px;line-height:20px;color:#9090b8;left:630.4px;transform:scaleX(1.0672);transform-origin:0 0;">Based on SSA 2023 period life tables with health and lifestyle adjustments.</div>
<div class="t" style="top:1213.8px;font-size:20px;line-height:20px;color:#9090b8;left:630.4px;transform:scaleX(1.0673);transform-origin:0 0;">Rough estimate only — individual circumstances vary widely.</div>
</body></html>
